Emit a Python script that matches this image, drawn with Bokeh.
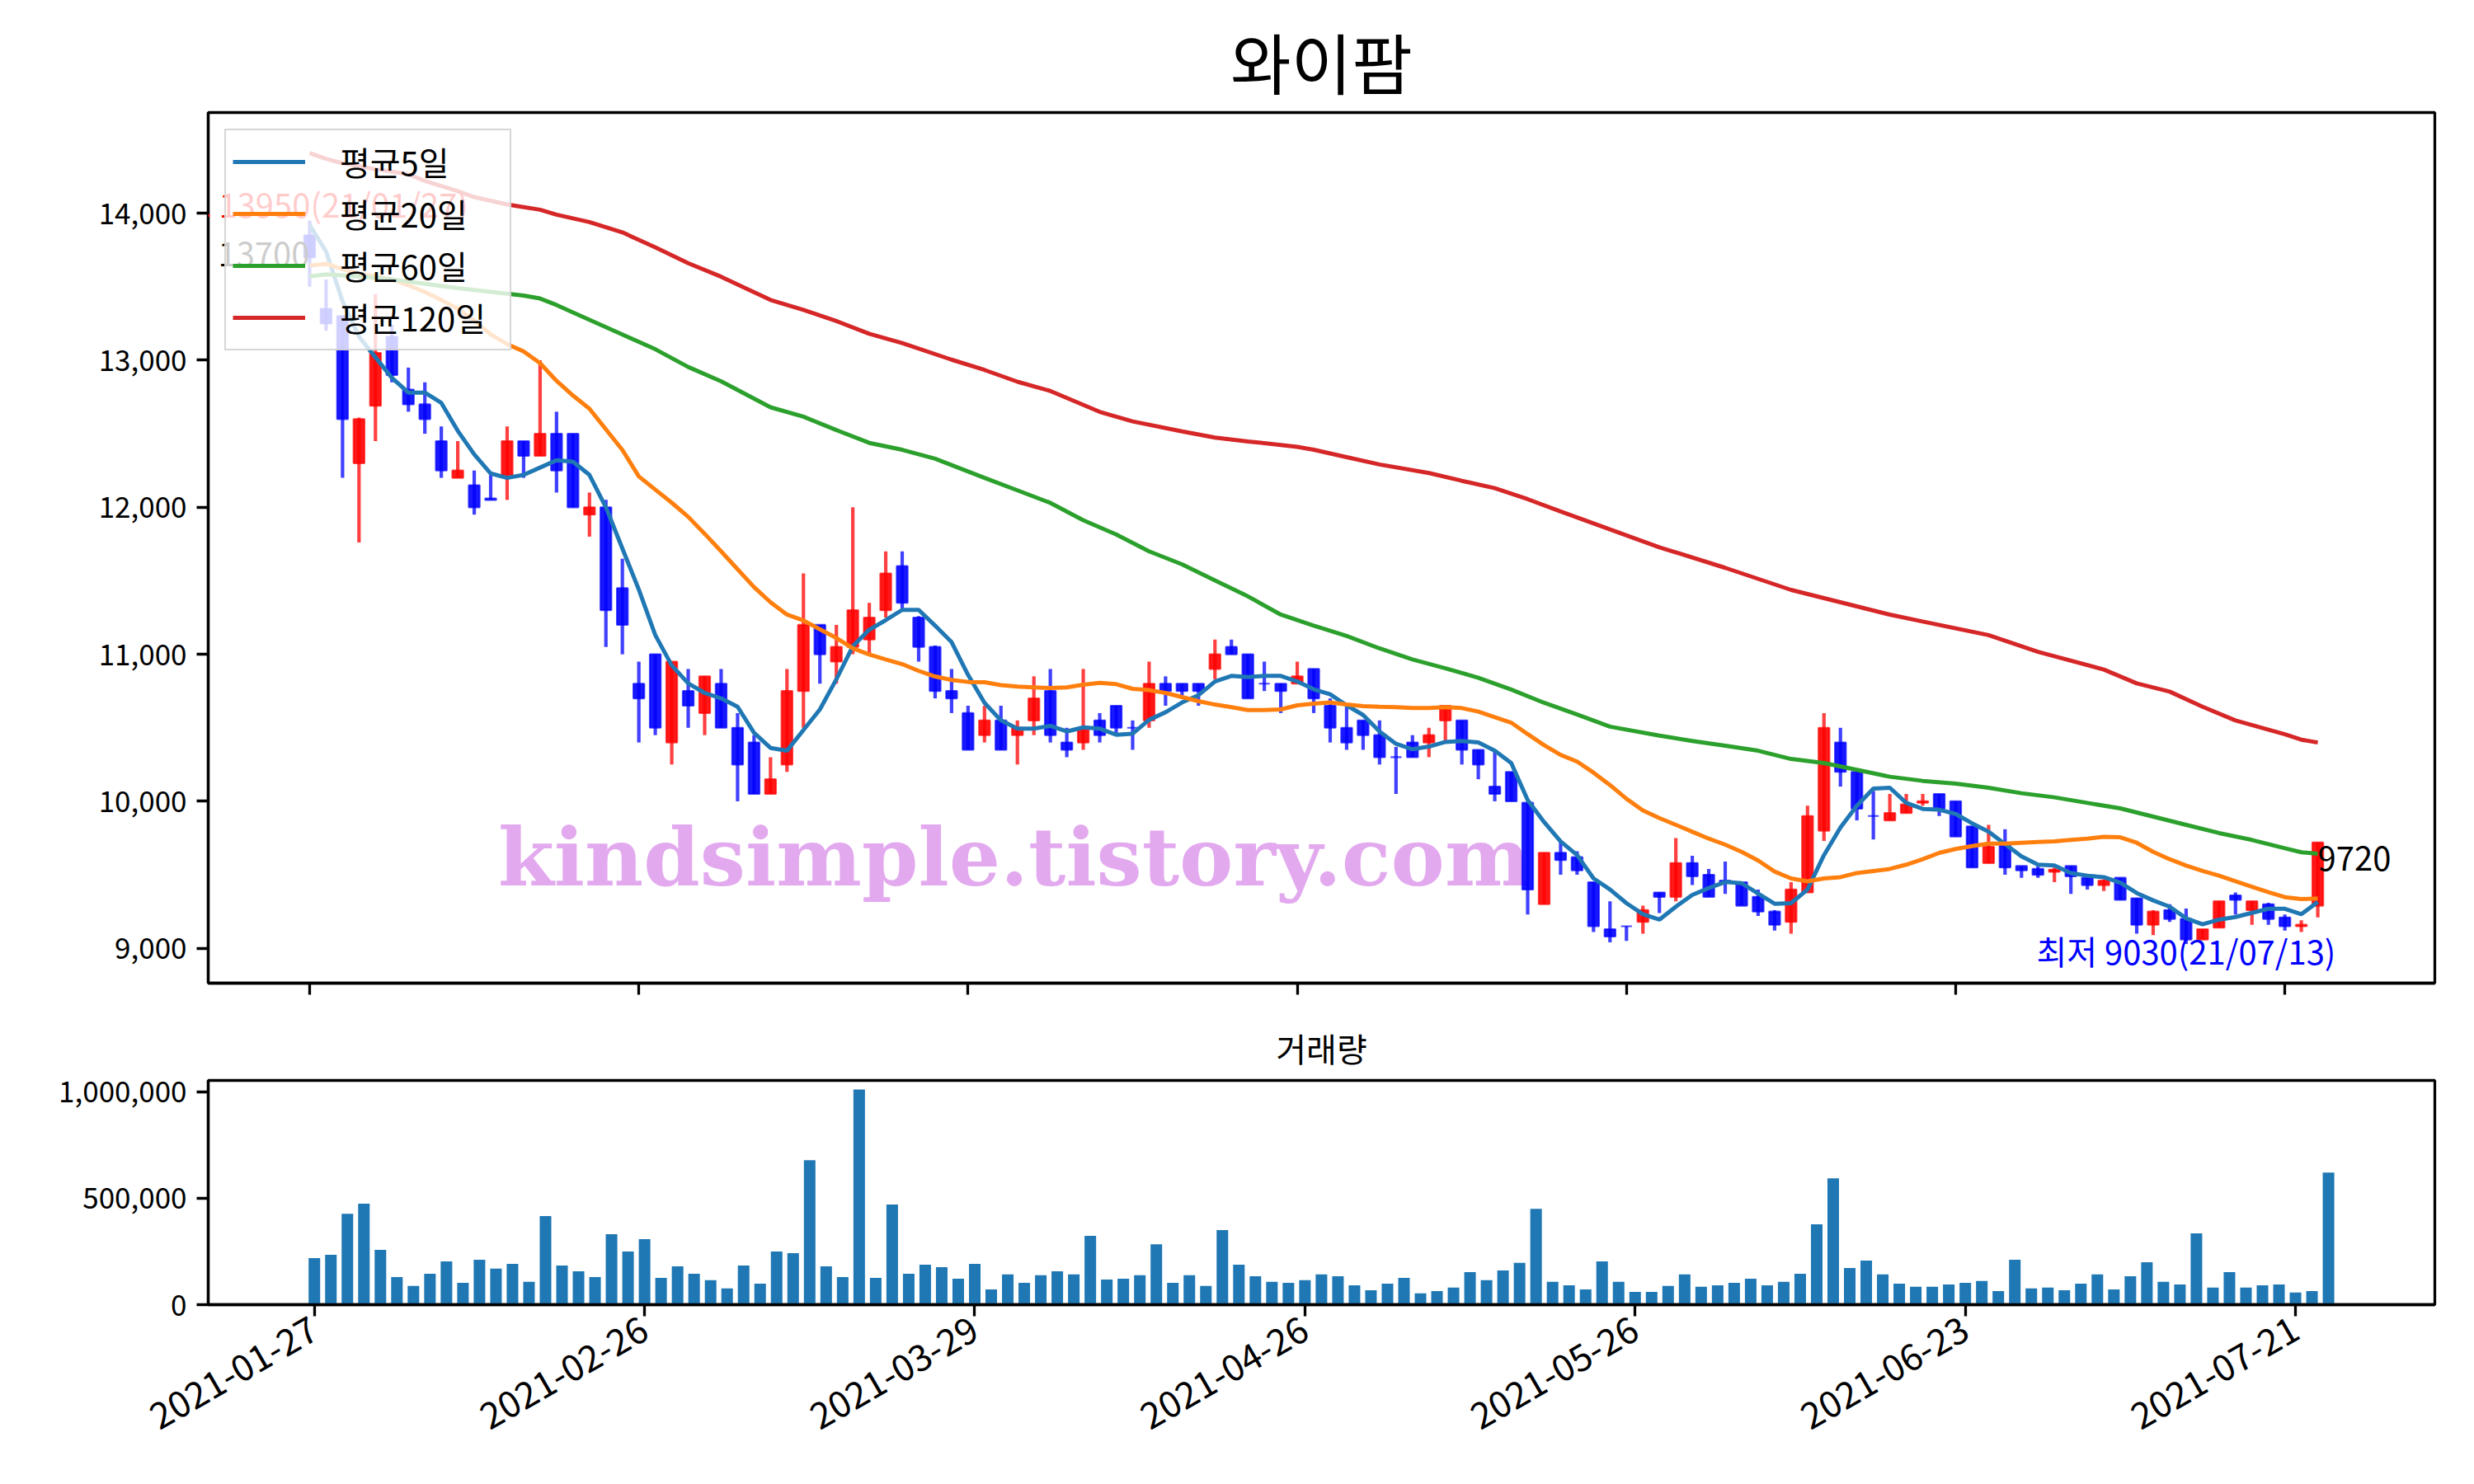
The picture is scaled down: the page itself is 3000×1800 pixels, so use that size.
import math
from bokeh.plotting import figure
from bokeh.layouts import column
from bokeh.models import (ColumnDataSource, FixedTicker, NumeralTickFormatter,
                          Legend, LegendItem, Label, Range1d)
from bokeh.embed import file_html
from bokeh.resources import INLINE

# ---------------- data ----------------
title_text = "와이팜"
volume_title = "거래량"
ma_labels = ["평균5일", "평균20일", "평균60일", "평균120일"]
tick_index = [0, 20, 40, 60, 80, 100, 120]
tick_labels = ["2021-01-27", "2021-02-26", "2021-03-29", "2021-04-26",
               "2021-05-26", "2021-06-23", "2021-07-21"]
high_date = "21/01/27"
low_date = "21/07/13"
watermark = "kindsimple.tistory.com"

open_ = [13850, 13350, 13300, 12300, 12690, 13160, 12800, 12700, 12450, 12200,
         12150, 12060, 12220, 12450, 12350, 12500, 12500, 11950, 12000, 11450,
         10800, 11000, 10400, 10750, 10600, 10800, 10500, 10400, 10050, 10250,
         10750, 11200, 10950, 11050, 11100, 11300, 11600, 11250, 11050, 10750,
         10600, 10450, 10550, 10450, 10550, 10750, 10400, 10400, 10550, 10650,
         10500, 10550, 10800, 10800, 10800, 10900, 11050, 11000, 10800, 10800,
         10800, 10900, 10650, 10500, 10550, 10450, 10300, 10400, 10400, 10550,
         10550, 10350, 10100, 10200, 9990, 9300, 9650, 9620, 9450, 9130,
         9150, 9180, 9380, 9350, 9580, 9500, 9460, 9450, 9350, 9250,
         9180, 9380, 9800, 10400, 10200, 9900, 9870, 9920, 9990, 10050,
         10000, 9830, 9580, 9700, 9560, 9540, 9520, 9560, 9480, 9430,
         9480, 9340, 9160, 9260, 9200, 9060, 9140, 9360, 9260, 9300,
         9210, 9150, 9290]
high = [13950, 13550, 13300, 12610, 13450, 13240, 12950, 12850, 12550, 12450,
        12250, 12220, 12550, 12450, 13000, 12650, 12500, 12100, 12050, 11650,
        10950, 11000, 10950, 10900, 10850, 10900, 10600, 10450, 10300, 10900,
        11550, 11200, 11200, 12000, 11350, 11700, 11700, 11260, 11060, 10900,
        10650, 10650, 10650, 10550, 10850, 10900, 10500, 10900, 10600, 10650,
        10550, 10950, 10850, 10800, 10800, 11100, 11100, 11000, 10950, 10800,
        10950, 10900, 10700, 10650, 10550, 10550, 10370, 10450, 10500, 10650,
        10550, 10350, 10350, 10200, 9990, 9650, 9730, 9660, 9450, 9320,
        9150, 9290, 9380, 9750, 9630, 9540, 9590, 9450, 9400, 9260,
        9450, 9970, 10600, 10500, 10200, 10070, 10050, 10050, 10050, 10050,
        10000, 9830, 9840, 9810, 9560, 9560, 9550, 9560, 9480, 9470,
        9480, 9340, 9260, 9300, 9270, 9130, 9320, 9380, 9320, 9310,
        9230, 9190, 9720]
low = [13500, 13200, 12200, 11760, 12450, 12850, 12650, 12500, 12200, 12200,
       11950, 12050, 12050, 12200, 12350, 12100, 12000, 11800, 11050, 11000,
       10400, 10450, 10250, 10500, 10450, 10500, 10000, 10050, 10050, 10200,
       10500, 10800, 10800, 11000, 11000, 11250, 11300, 10950, 10700, 10600,
       10350, 10400, 10350, 10250, 10450, 10400, 10300, 10350, 10400, 10450,
       10350, 10500, 10650, 10700, 10650, 10830, 11000, 10700, 10750, 10600,
       10800, 10600, 10400, 10350, 10350, 10250, 10050, 10300, 10300, 10400,
       10250, 10150, 10000, 10000, 9230, 9300, 9500, 9500, 9110, 9040,
       9050, 9100, 9240, 9320, 9430, 9350, 9370, 9290, 9220, 9120,
       9100, 9380, 9730, 10100, 9870, 9740, 9870, 9920, 9970, 9900,
       9760, 9550, 9580, 9500, 9480, 9480, 9450, 9370, 9400, 9390,
       9330, 9100, 9090, 9180, 9030, 9060, 9140, 9230, 9160, 9160,
       9120, 9110, 9210]
close = [13700, 13250, 12600, 12600, 13050, 12900, 12700, 12600, 12250, 12250,
         12000, 12050, 12450, 12350, 12500, 12250, 12000, 12000, 11300, 11200,
         10700, 10500, 10950, 10650, 10850, 10500, 10250, 10050, 10150, 10750,
         11200, 11000, 11050, 11300, 11250, 11550, 11350, 11050, 10750, 10700,
         10350, 10550, 10350, 10500, 10700, 10450, 10350, 10500, 10450, 10500,
         10500, 10800, 10750, 10750, 10750, 11000, 11000, 10700, 10800, 10750,
         10850, 10700, 10500, 10400, 10450, 10300, 10300, 10300, 10450, 10650,
         10350, 10250, 10050, 10000, 9400, 9650, 9600, 9530, 9150, 9080,
         9150, 9260, 9350, 9580, 9490, 9350, 9450, 9290, 9250, 9160,
         9400, 9900, 10500, 10200, 9950, 9900, 9920, 9980, 10000, 9950,
         9760, 9550, 9690, 9550, 9530, 9500, 9535, 9490, 9430, 9460,
         9330, 9160, 9250, 9200, 9060, 9130, 9320, 9330, 9320, 9200,
         9150, 9160, 9720]
volume = [219000, 234000, 427000, 474000, 257000, 130000, 88000, 145000, 203000, 103000,
          211000, 169000, 192000, 107000, 416000, 184000, 157000, 130000, 331000, 250000,
          308000, 126000, 180000, 145000, 115000, 76000, 184000, 99000, 250000, 242000,
          678000, 180000, 130000, 1010000, 126000, 470000, 145000, 188000, 176000, 122000,
          192000, 72000, 142000, 103000, 138000, 157000, 142000, 323000, 118000, 122000,
          138000, 284000, 103000, 138000, 88000, 350000, 188000, 134000, 107000, 103000,
          115000, 142000, 134000, 91000, 68000, 99000, 126000, 53000, 64000, 80000,
          153000, 115000, 161000, 196000, 450000, 107000, 91000, 72000, 203000, 107000,
          60000, 60000, 88000, 142000, 84000, 91000, 103000, 122000, 91000, 107000,
          145000, 377000, 593000, 172000, 207000, 142000, 99000, 84000, 84000, 95000,
          103000, 111000, 64000, 211000, 76000, 80000, 68000, 99000, 142000, 72000,
          134000, 199000, 107000, 95000, 335000, 80000, 153000, 80000, 91000, 95000,
          57000, 64000, 620000]
ma5 = [13920, 13740, 13400, 13160, 13020, 12880, 12780, 12780, 12710, 12520,
       12360, 12230, 12200, 12220, 12270, 12320, 12310, 12220, 12000, 11720,
       11440, 11130, 10924, 10802, 10737, 10700, 10643, 10466, 10363, 10344,
       10485, 10625, 10830, 11055, 11167, 11232, 11302, 11302, 11195, 11083,
       10860, 10670, 10550, 10494, 10494, 10513, 10475, 10503, 10494, 10453,
       10460, 10554, 10606, 10672, 10722, 10815, 10853, 10845, 10853, 10853,
       10815, 10762, 10728, 10653, 10587, 10475, 10391, 10354, 10372, 10404,
       10410, 10400, 10344, 10260, 10008, 9858, 9727, 9634, 9475, 9400,
       9307, 9232, 9195, 9283, 9363, 9410, 9451, 9443, 9372, 9303,
       9307, 9400, 9634, 9821, 9970, 10086, 10092, 9989, 9948, 9943,
       9914, 9850, 9793, 9709, 9625, 9569, 9563, 9512, 9494, 9484,
       9447, 9376, 9326, 9283, 9204, 9163, 9195, 9213, 9241, 9269,
       9269, 9232, 9316]
ma20 = [13644, 13656, 13620, 13590, 13570, 13550, 13510, 13464, 13410, 13350,
        13270, 13176, 13110, 13060, 12980, 12860, 12760, 12670, 12530, 12390,
        12210, 12120, 12031, 11935, 11820, 11700, 11578, 11457, 11354, 11270,
        11230, 11170, 11111, 11040, 10999, 10965, 10933, 10887, 10849, 10825,
        10812, 10810, 10790, 10780, 10775, 10770, 10775, 10793, 10806, 10797,
        10765, 10756, 10737, 10709, 10681, 10658, 10640, 10621, 10621, 10625,
        10653, 10664, 10672, 10658, 10647, 10643, 10640, 10634, 10634, 10640,
        10634, 10610, 10572, 10535, 10457, 10382, 10316, 10270, 10195, 10111,
        10017, 9938, 9886, 9840, 9793, 9746, 9705, 9656, 9597, 9522,
        9475, 9456, 9475, 9484, 9512, 9526, 9540, 9569, 9606, 9649,
        9676, 9695, 9712, 9712, 9718, 9724, 9727, 9737, 9746, 9759,
        9755, 9718, 9656, 9606, 9563, 9526, 9494, 9456, 9419, 9382,
        9348, 9335, 9339]
ma60_x = [0, 1, 3, 5, 7, 9, 11, 13, 14, 15, 16, 19, 21, 23, 25, 28, 30, 32, 34, 36,
          38, 41, 43, 45, 47, 49, 51, 53, 55, 57, 59, 61, 63, 65, 67, 69, 71, 73, 75, 77,
          79, 82, 84, 86, 88, 90, 92, 94, 96, 98, 100, 102, 104, 106, 108, 110, 112, 114,
          116, 118, 120, 121, 122]
ma60 = [13570, 13585, 13570, 13550, 13520, 13490, 13465, 13440, 13420, 13376, 13325,
        13175, 13075, 12954, 12857, 12680, 12616, 12525, 12438, 12391, 12330, 12200,
        12115, 12030, 11912, 11815, 11700, 11612, 11502, 11394, 11270, 11195, 11125,
        11040, 10965, 10905, 10840, 10760, 10670, 10590, 10508, 10447, 10410, 10378,
        10344, 10288, 10260, 10214, 10167, 10139, 10120, 10092, 10055, 10027, 9989,
        9952, 9896, 9840, 9784, 9737, 9681, 9653, 9643]
ma120_x = [0, 1, 2, 4, 6, 7, 9, 10, 12, 14, 15, 17, 19, 21, 23, 25, 28, 30, 32, 34,
           36, 39, 41, 43, 45, 48, 50, 53, 55, 57, 60, 61, 63, 65, 68, 70, 72, 74, 76,
           79, 82, 86, 90, 93, 96, 98, 102, 105, 109, 111, 113, 115, 117, 120, 121, 122]
ma120 = [14410, 14370, 14340, 14300, 14265, 14220, 14150, 14110, 14060, 14024, 13990,
         13940, 13870, 13768, 13660, 13568, 13410, 13342, 13267, 13180, 13117, 13004,
         12934, 12854, 12791, 12649, 12584, 12516, 12474, 12448, 12411, 12391, 12341,
         12291, 12233, 12180, 12130, 12055, 11971, 11849, 11728, 11588, 11438, 11354,
         11270, 11223, 11130, 11017, 10896, 10802, 10746, 10643, 10550, 10456, 10419,
         10400]

# ---------------- derived ----------------
n = len(close)
idx = list(range(n))
UP, DOWN = "#ff0000", "#0000ff"
colors = [UP if c > o else DOWN for o, c in zip(open_, close)]
src = ColumnDataSource(dict(
    x=idx, high=high, low=low,
    top=[max(o, c) for o, c in zip(open_, close)],
    bottom=[min(o, c) for o, c in zip(open_, close)],
    color=colors))

FONT = "Noto Sans CJK KR"
TICK_FS = "35px"
DATE_FS = "44px"
TEXT_FS = "40px"

FRAME_L, FRAME_R = 252, 2952
FRAME_T, FRAME_H = 136, 1056
Y_LO, Y_HI = 8763, 14685
PX = (Y_HI - Y_LO) / FRAME_H        # price units per pixel

# ---------------- main price figure ----------------
p = figure(frame_width=FRAME_R - FRAME_L, frame_height=FRAME_H,
           x_range=Range1d(-6.16, 129.11), y_range=Range1d(Y_LO, Y_HI),
           output_backend="svg", toolbar_location=None, title=title_text,
           min_border_left=FRAME_L, min_border_right=40, min_border_top=FRAME_T,
           min_border_bottom=30)
p.title.text_font = FONT
p.title.text_font_size = "80px"
p.title.text_font_style = "normal"
p.title.align = "center"
p.title.text_color = "black"
p.title.standoff = 12

p.xgrid.visible = False
p.ygrid.visible = False
p.outline_line_color = "black"
p.outline_line_width = 3.3
p.background_fill_color = "white"
p.border_fill_color = "white"

# watermark (behind everything)
p.add_layout(Label(x=42.8, y=9623, text=watermark, text_font="DejaVu Serif",
                   text_font_style="bold", text_font_size="98px",
                   text_color="#e3a9ef", text_align="center",
                   text_baseline="alphabetic", level="underlay"))

# candles
p.segment(x0="x", y0="low", x1="x", y1="high", source=src,
          line_color="color", line_width=4.2, line_alpha=0.75)
p.vbar(x="x", width=0.66, top="top", bottom="bottom", source=src,
       fill_color="color", fill_alpha=0.9, line_color="color",
       line_alpha=0.7, line_width=2.2)

# moving averages
r5 = p.line(idx, ma5, line_color="#1f77b4", line_width=5)
r20 = p.line(idx, ma20, line_color="#ff7f0e", line_width=5)
r60 = p.line(ma60_x, ma60, line_color="#2ca02c", line_width=5)
r120 = p.line(ma120_x, ma120, line_color="#d62728", line_width=5)

# annotations
hi_i = max(idx, key=lambda i: high[i])
lo_i = min(idx, key=lambda i: low[i])
p.add_layout(Label(x=hi_i, y=high[hi_i] - 8.4 * PX, text=f"최고 {high[hi_i]}({high_date})",
                   text_font=FONT, text_font_size=TEXT_FS, text_color="#ff0000",
                   text_align="center", text_baseline="bottom"))
p.add_layout(Label(x=0, y=close[0] - 10.5 * PX, text=f"{close[0]}",
                   text_font=FONT, text_font_size=TEXT_FS, text_color="black",
                   text_align="right", text_baseline="bottom"))
p.add_layout(Label(x=lo_i, y=low[lo_i] - 37 * PX, text=f"최저 {low[lo_i]}({low_date})",
                   text_font=FONT, text_font_size=TEXT_FS, text_color="#0000ff",
                   text_align="center", text_baseline="bottom"))
p.add_layout(Label(x=n - 1, y=close[-1] - 34 * PX, text=f"{close[-1]}",
                   text_font=FONT, text_font_size=TEXT_FS, text_color="black",
                   text_align="left", text_baseline="bottom"))

legend = Legend(items=[LegendItem(label=ma_labels[0], renderers=[r5]),
                       LegendItem(label=ma_labels[1], renderers=[r20]),
                       LegendItem(label=ma_labels[2], renderers=[r60]),
                       LegendItem(label=ma_labels[3], renderers=[r120])],
                location="top_left")
legend.label_text_font = FONT
legend.label_text_font_size = TEXT_FS
legend.label_text_color = "black"
legend.glyph_width = 88
legend.glyph_height = 60
legend.label_height = 60
legend.label_width = 198
legend.label_standoff = 42
legend.spacing = 3
legend.padding = 8
legend.margin = 20
legend.background_fill_color = "white"
legend.background_fill_alpha = 0.8
legend.border_line_color = "#cccccc"
legend.border_line_width = 2.5
legend.border_line_alpha = 0.8
p.add_layout(legend)

p.xaxis.ticker = FixedTicker(ticks=tick_index)
p.xaxis.major_label_text_font_size = "1px"
p.xaxis.major_label_text_color = None
p.yaxis.ticker = FixedTicker(ticks=[9000, 10000, 11000, 12000, 13000, 14000])
p.yaxis.formatter = NumeralTickFormatter(format="0,0")
for ax in (p.xaxis[0], p.yaxis[0]):
    ax.axis_line_color = "black"
    ax.axis_line_width = 3.3
    ax.major_tick_line_color = "black"
    ax.major_tick_line_width = 3.3
    ax.major_tick_out = 14
    ax.major_tick_in = 0
    ax.minor_tick_out = 0
    ax.minor_tick_in = 0
    ax.major_label_standoff = 12
    ax.major_label_text_font = FONT
p.yaxis.major_label_text_color = "black"
p.yaxis.major_label_text_font_size = TICK_FS

# ---------------- volume figure ----------------
pv = figure(frame_width=FRAME_R - FRAME_L, frame_height=272,
            x_range=Range1d(-6.43, 128.44), y_range=Range1d(0, 1053000),
            output_backend="svg", toolbar_location=None, title=volume_title,
            min_border_left=FRAME_L, min_border_right=40, min_border_top=88,
            min_border_bottom=200)
pv.title.text_font = FONT
pv.title.text_font_size = TEXT_FS
pv.title.text_font_style = "normal"
pv.title.align = "center"
pv.title.text_color = "black"
pv.title.standoff = 22
pv.xgrid.visible = False
pv.ygrid.visible = False
pv.outline_line_color = "black"
pv.outline_line_width = 3.3

pv.vbar(x=idx, top=volume, width=0.7, bottom=0, fill_color="#1f77b4",
        line_color=None)

pv.xaxis.ticker = FixedTicker(ticks=tick_index)
pv.xaxis.major_label_overrides = {t: lab for t, lab in zip(tick_index, tick_labels)}
pv.xaxis.major_label_orientation = math.pi / 6
pv.xaxis.major_label_text_font_size = DATE_FS
pv.yaxis.ticker = FixedTicker(ticks=[0, 500000, 1000000])
pv.yaxis.formatter = NumeralTickFormatter(format="0,0")
pv.yaxis.major_label_text_font_size = TICK_FS
for ax in (pv.xaxis[0], pv.yaxis[0]):
    ax.axis_line_color = "black"
    ax.axis_line_width = 3.3
    ax.major_tick_line_color = "black"
    ax.major_tick_line_width = 3.3
    ax.major_tick_out = 14
    ax.major_tick_in = 0
    ax.minor_tick_out = 0
    ax.minor_tick_in = 0
    ax.major_label_standoff = 12
    ax.major_label_text_color = "black"
    ax.major_label_text_font = FONT

layout = column(p, pv, spacing=0)
open("out.html", "w").write(file_html(layout, INLINE, title=title_text))
